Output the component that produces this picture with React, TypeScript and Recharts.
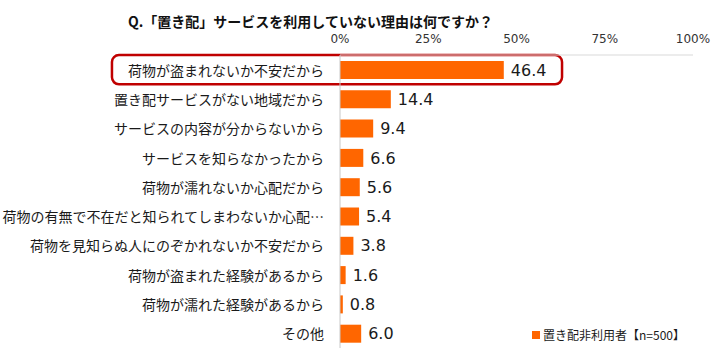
import React from 'react';
import {
  BarChart,
  Bar,
  XAxis,
  YAxis,
  LabelList,
  Legend,
  ReferenceArea
} from 'recharts';

const reasons = [
  '荷物が盗まれないか不安だから',
  '置き配サービスがない地域だから',
  'サービスの内容が分からないから',
  'サービスを知らなかったから',
  '荷物が濡れないか心配だから',
  '荷物の有無で不在だと知られてしまわないか心配…',
  '荷物を見知らぬ人にのぞかれないか不安だから',
  '荷物が盗まれた経験があるから',
  '荷物が濡れた経験があるから',
  'その他'
];
const shares = [46.4, 14.4, 9.4, 6.6, 5.6, 5.4, 3.8, 1.6, 0.8, 6.0];
const percentTicks = [0, 25, 50, 75, 100];
const seriesName = '置き配非利用者【n=500】';
const title = 'Q.「置き配」サービスを利用していない理由は何ですか？';

const data = reasons.map((name, i) => ({ name, value: shares[i] }));

const JP = '"Noto Sans CJK JP", "Noto Sans", sans-serif';
const NUM = '"DejaVu Sans", Verdana, sans-serif';
const ORANGE = '#ff6600';
const BORDER = '#d9d9d9';

const CategoryTick = ({ x, y, payload }: any) => (
  <text
    x={x - 8}
    y={y}
    textAnchor="end"
    dominantBaseline="central"
    fill="#1a1a1a"
    style={{ fontSize: 14, fontFamily: JP }}
  >
    {payload.value}
  </text>
);

const HighlightBox = (props: any) => (
  <rect
    x={props.x}
    y={props.y}
    width={props.width}
    height={props.height}
    rx={7}
    ry={7}
    fill="none"
    stroke="#c00000"
    strokeWidth={2.5}
  />
);

const LegendContent = ({ payload }: any) => (
  <div
    style={{
      display: 'flex',
      alignItems: 'center',
      height: '100%',
      paddingLeft: 20,
      fontFamily: JP,
      fontSize: 12,
      color: '#1a1a1a'
    }}
  >
    {(payload || []).map((entry: any) => (
      <span key={entry.value} style={{ display: 'flex', alignItems: 'center' }}>
        <span
          style={{
            display: 'inline-block',
            width: 8,
            height: 8,
            background: ORANGE,
            marginRight: 3
          }}
        />
        {entry.value}
      </span>
    ))}
  </div>
);

export default function App() {
  return (
    <div style={{ position: 'absolute', left: 0, top: 0, width: 720, height: 355, background: '#fff' }}>
      <div
        style={{
          position: 'absolute',
          left: 128,
          top: 11,
          lineHeight: '20px',
          fontFamily: JP,
          fontSize: 14,
          fontWeight: 'bold',
          color: '#111',
          whiteSpace: 'nowrap'
        }}
      >
        {title}
      </div>
      <BarChart
        width={720}
        height={355}
        data={data}
        layout="vertical"
        margin={{ top: 25, right: 27, bottom: 7, left: 0 }}
      >
        <XAxis
          type="number"
          orientation="top"
          domain={[0, 100]}
          ticks={percentTicks}
          tickFormatter={(v) => `${v}%`}
          height={30}
          tickLine={false}
          tickSize={0}
          tickMargin={12}
          axisLine={{ stroke: BORDER }}
          tick={{ fill: '#333', fontSize: 12, fontFamily: NUM }}
          interval={0}
        />
        <XAxis
          xAxisId="bottom"
          type="number"
          orientation="bottom"
          domain={[0, 100]}
          height={0}
          tick={false}
          tickLine={false}
          axisLine={{ stroke: BORDER }}
        />
        <YAxis
          type="category"
          dataKey="name"
          width={340}
          tickLine={false}
          axisLine={{ stroke: '#c8c8c8' }}
          tick={<CategoryTick />}
          interval={0}
        />
        <YAxis
          yAxisId="right"
          type="category"
          dataKey="name"
          orientation="right"
          width={0}
          tick={false}
          tickLine={false}
          axisLine={{ stroke: BORDER }}
        />
        <ReferenceArea
          y1={reasons[0]}
          y2={reasons[0]}
          x1={-64.6}
          x2={62.9}
          ifOverflow="visible"
          shape={HighlightBox}
        />
        <Bar
          dataKey="value"
          name={seriesName}
          fill={ORANGE}
          barSize={18}
          isAnimationActive={false}
        >
          <LabelList
            dataKey="value"
            position="right"
            offset={7}
            formatter={(v: any) => Number(v).toFixed(1)}
            style={{ fill: '#1a1a1a', fontSize: 16, fontFamily: NUM }}
          />
        </Bar>
        <Legend
          layout="horizontal"
          verticalAlign="middle"
          align="center"
          content={<LegendContent />}
          wrapperStyle={{ left: 512, top: 319, width: 180, height: 31, background: '#fff' }}
        />
      </BarChart>
    </div>
  );
}
